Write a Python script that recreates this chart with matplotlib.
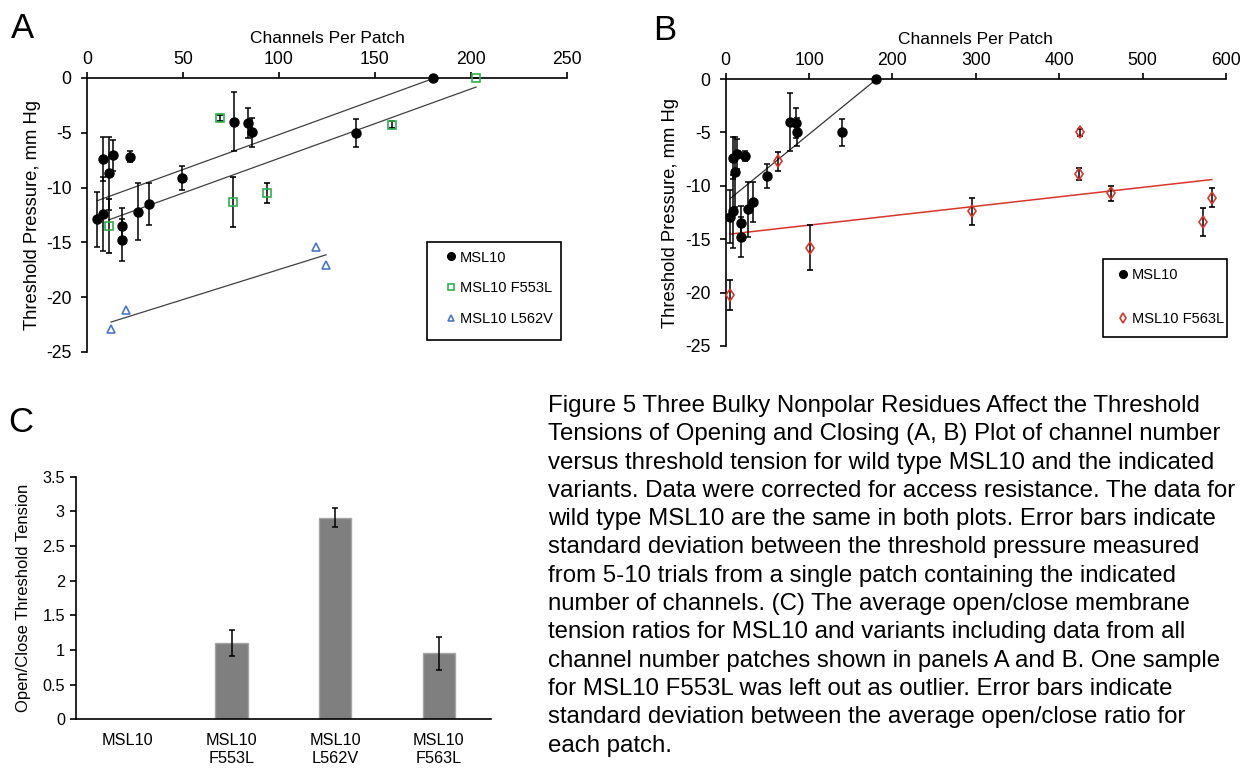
import numpy as np
import matplotlib
matplotlib.use("Agg")
import matplotlib.pyplot as plt
from matplotlib.lines import Line2D
from matplotlib.patches import Rectangle
from matplotlib.ticker import FuncFormatter

plt.rcParams['font.family'] = ['Liberation Sans', 'DejaVu Sans']
plt.rcParams['axes.unicode_minus'] = False

# MSL10 (wild type) - same data in A and B
msl10_x = [5.4, 8.5, 8.5, 11.6, 13.5, 18.4, 18.4, 22.6, 26.4, 32.3, 49.3, 76.7, 83.9, 85.8, 140, 180]
msl10_y = [-12.9, -7.4, -12.4, -8.7, -7.05, -13.5, -14.8, -7.2, -12.2, -11.5, -9.1, -4.0, -4.1, -4.95, -5.0, 0]
msl10_err = [2.5, 2.0, 3.4, 3.3, 1.4, 1.6, 1.9, 0.5, 2.6, 1.9, 1.1, 2.7, 1.4, 1.3, 1.3, 0]

# MSL10 F553L
f553l_x = [11.6, 69.3, 75.9, 93.8, 159, 202.6]
f553l_y = [-13.5, -3.65, -11.3, -10.5, -4.25, 0]
f553l_err = [2.5, 0.3, 2.3, 0.9, 0.3, 0]

# MSL10 L562V
l562v_x = [12.5, 20.5, 119.3, 124.5]
l562v_y = [-22.9, -21.2, -15.45, -17.1]

# MSL10 F563L
f563l_x = [5.2, 63.2, 101.2, 295.6, 423.8, 425, 461.7, 572, 583]
f563l_y = [-20.2, -7.7, -15.8, -12.4, -8.9, -5.0, -10.7, -13.4, -11.1]
f563l_err = [1.4, 0.9, 2.1, 1.25, 0.6, 0.3, 0.7, 1.3, 0.9]

# panel C
bar_labels = ['MSL10', 'MSL10\nF553L', 'MSL10\nL562V', 'MSL10\nF563L']
bar_values = [np.nan, 1.1, 2.91, 0.95]
bar_err = [np.nan, 0.19, 0.14, 0.235]

caption = [
    "Figure 5 Three Bulky Nonpolar Residues Affect the Threshold",
    "Tensions of Opening and Closing (A, B) Plot of channel number",
    "versus threshold tension for wild type MSL10 and the indicated",
    "variants. Data were corrected for access resistance. The data for",
    "wild type MSL10 are the same in both plots. Error bars indicate",
    "standard deviation between the threshold pressure measured",
    "from 5-10 trials from a single patch containing the indicated",
    "number of channels. (C) The average open/close membrane",
    "tension ratios for MSL10 and variants including data from all",
    "channel number patches shown in panels A and B. One sample",
    "for MSL10 F553L was left out as outlier. Error bars indicate",
    "standard deviation between the average open/close ratio for",
    "each patch.",
]

GREEN = '#2eb04f'
BLUE = '#4a78c8'
RED = '#d8352c'
W, H = 1244, 769

fig = plt.figure(figsize=(W / 100, H / 100), dpi=100)


def px_axes(l, t, r, b):
    return fig.add_axes([l / W, 1 - b / H, (r - l) / W, (b - t) / H])


def style_top(ax, xmax, xstep):
    ax.set_xlim(0, xmax)
    ax.set_ylim(-25, 0)
    ax.xaxis.tick_top()
    ax.xaxis.set_label_position('top')
    ax.spines['bottom'].set_visible(False)
    ax.spines['right'].set_visible(False)
    for s in ['top', 'left']:
        ax.spines[s].set_linewidth(1.2)
    ax.set_xticks(np.arange(0, xmax + 1, xstep))
    ax.set_yticks(np.arange(-25, 1, 5))
    ax.tick_params(direction='out', length=4, width=1.2, labelsize=12.7)
    ax.tick_params(axis='x', pad=3)
    ax.tick_params(axis='y', pad=7)
    ax.set_xlabel('Channels Per Patch', fontsize=12.5, labelpad=6)
    ax.set_ylabel('Threshold Pressure, mm Hg', fontsize=13.2, labelpad=4)


def trend(ax, x, y, color, lw=0.9):
    x = np.asarray(x)
    k, b = np.polyfit(x, y, 1)
    xs = np.array([x.min(), x.max()])
    ax.plot(xs, k * xs + b, color=color, lw=lw, zorder=2)


def boxed_legend(ax, handles, labels, anchor, box, spacing):
    leg = ax.legend(handles, labels, loc='center left', bbox_to_anchor=anchor,
                    fontsize=10.5, frameon=False, handlelength=0.8, handletextpad=0.22,
                    labelspacing=spacing, borderpad=0, borderaxespad=0)
    x0, y0, x1, y1 = box
    ax.add_patch(Rectangle((x0, y0), x1 - x0, y1 - y0, transform=ax.transAxes,
                           fill=False, ec='black', lw=1.2, clip_on=False, zorder=5))
    return leg


eb = dict(ecolor='black', elinewidth=1.1, capsize=2, capthick=1.1, clip_on=False)

# ---------- A ----------
axA = px_axes(87, 78, 567, 352)
style_top(axA, 250, 50)
trend(axA, msl10_x, msl10_y, '#404040')
trend(axA, f553l_x, f553l_y, '#404040')
trend(axA, l562v_x, l562v_y, '#404040')
axA.errorbar(msl10_x, msl10_y, yerr=msl10_err, fmt='o', color='black', ms=6.5, zorder=4, **eb)
axA.errorbar(f553l_x, f553l_y, yerr=f553l_err, fmt='s', mfc='none', mec=GREEN, mew=1.2, ms=6, zorder=4, **eb)
axA.plot(l562v_x, l562v_y, '^', mfc='none', mec=BLUE, mew=1.2, ms=6, zorder=4, clip_on=False)
hA = [Line2D([], [], ls='none', marker='o', color='black', ms=5.5),
      Line2D([], [], ls='none', marker='s', mfc='none', mec=GREEN, mew=1.2, ms=5),
      Line2D([], [], ls='none', marker='^', mfc='none', mec=BLUE, mew=1.2, ms=5)]
boxed_legend(axA, hA, ['MSL10', 'MSL10 F553L', 'MSL10 L562V'],
             (0.7456, 0.2325), (0.709, 0.0438, 0.9875, 0.4026), 1.15)
fig.text(11 / W, 1 - 38.5 / H, 'A', fontsize=25)

# ---------- B ----------
axB = px_axes(725.7, 79, 1226, 346)
style_top(axB, 600, 100)
trend(axB, msl10_x, msl10_y, '#333333')
trend(axB, f563l_x, f563l_y, RED, lw=1.1)
axB.errorbar(msl10_x, msl10_y, yerr=msl10_err, fmt='o', color='black', ms=6.5, zorder=4, **eb)
axB.errorbar(f563l_x, f563l_y, yerr=f563l_err, fmt='d', mfc='none', mec=RED, mew=1.2, ms=6, zorder=4, **eb)
hB = [Line2D([], [], ls='none', marker='o', color='black', ms=5.5),
      Line2D([], [], ls='none', marker='d', mfc='none', mec=RED, mew=1.2, ms=5.5)]
boxed_legend(axB, hB, ['MSL10', 'MSL10 F563L'],
             (0.7825, 0.1835), (0.7535, 0.0326, 1.0026, 0.3247), 2.1)
fig.text(653 / W, 1 - 40 / H, 'B', fontsize=25)

# ---------- C ----------
axC = px_axes(76, 476.7, 490.7, 719.3)
pos = np.arange(len(bar_labels))
axC.bar(pos, bar_values, width=0.31, color='#7f7f7f', edgecolor='#a5a5a5', lw=1, zorder=2)
axC.errorbar(pos, bar_values, yerr=bar_err, fmt='none', ecolor='black', elinewidth=1.1,
             capsize=2, capthick=1.1, zorder=3)
axC.set_xlim(-0.5, len(bar_labels) - 0.5)
axC.set_ylim(0, 3.5)
axC.set_yticks(np.arange(0, 3.51, 0.5))
axC.yaxis.set_major_formatter(FuncFormatter(lambda v, p: f'{v:g}'))
axC.set_xticks(pos)
axC.set_xticklabels(bar_labels, fontsize=11.7, linespacing=1.2)
axC.tick_params(axis='x', length=0, pad=10)
axC.tick_params(axis='y', direction='out', length=4, width=1.2, labelsize=11.7, pad=4)
axC.spines['right'].set_visible(False)
axC.spines['top'].set_visible(False)
for s in ['left', 'bottom']:
    axC.spines[s].set_linewidth(1.2)
axC.set_ylabel('Open/Close Threshold Tension', fontsize=12, labelpad=8)
fig.text(8 / W, 1 - 432 / H, 'C', fontsize=25)

# ---------- caption ----------
for i, line in enumerate(caption):
    fig.text(548 / W, 1 - (412 + i * 28.3) / H, line, fontsize=17.3, va='baseline', ha='left')

fig.savefig('out.png', dpi=100)
